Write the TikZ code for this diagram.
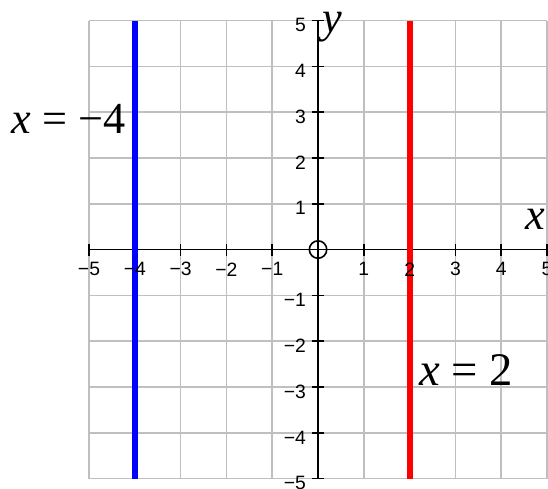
\documentclass[tikz,border=0pt]{standalone}
\usepackage{fontspec}
\setmainfont{Liberation Serif}
\newfontfamily\tickfont{Liberation Sans}
\begin{document}
\begin{tikzpicture}[x=1cm, y=1cm,
    eqlabel/.style={font=\fontsize{27.5}{30}\selectfont, inner sep=0pt},
    xnum/.style={font=\tickfont\fontsize{12}{14}\selectfont, inner sep=0pt},
    ynum/.style={font=\tickfont\fontsize{12}{14}\selectfont, inner sep=0pt, anchor=east}]
	\useasboundingbox (-6.943,-5.207) rectangle (5.02,5.448);
	% Grid
	\draw[gray!50, line width=1pt] (-5,-5) grid (5,5);
	% Axes
	\draw[line width=1.1pt] (-5,0) -- (5,0);
	\draw[line width=1.1pt] (0,-5) -- (0,5);
	% Ticks
	\foreach \t in {-5,-4,-3,-2,-1,1,2,3,4,5} {
		\draw[line width=1pt] (\t,-0.13) -- (\t,0.13);
		\draw[line width=1pt] (-0.13,\t) -- (0.13,\t);
	}
	\draw[line width=1pt] (0,0) circle (0.19);
	% Vertical lines
	\draw[blue, line width=3.7pt] (-4,-5) -- (-4,5);
	\draw[red, line width=3.7pt] (2,-5) -- (2,5);
	% Tick labels
	\node[xnum] (xm5) at (-5,-0.43) {−5};
	\node[xnum] (xm4) at (-4,-0.43) {−4};
	\node[xnum] (xm3) at (-3,-0.43) {−3};
	\node[xnum] (xm2) at (-2,-0.43) {−2};
	\node[xnum] (xm1) at (-1,-0.43) {−1};
	\node[xnum] (xp1) at (1,-0.43) {1};
	\node[xnum] (xp2) at (2,-0.43) {2};
	\node[xnum] (xp3) at (3,-0.43) {3};
	\node[xnum] (xp4) at (4,-0.43) {4};
	\node[xnum] (xp5) at (5,-0.43) {5};
	\node[ynum] (yp5) at (-0.26,4.9) {5};
	\node[ynum] (yp4) at (-0.26,3.9) {4};
	\node[ynum] (yp3) at (-0.26,2.9) {3};
	\node[ynum] (yp2) at (-0.26,1.9) {2};
	\node[ynum] (yp1) at (-0.26,0.9) {1};
	\node[ynum] (ym1) at (-0.26,-1.1) {−1};
	\node[ynum] (ym2) at (-0.26,-2.1) {−2};
	\node[ynum] (ym3) at (-0.26,-3.1) {−3};
	\node[ynum] (ym4) at (-0.26,-4.1) {−4};
	\node[ynum] (ym5) at (-0.26,-5.1) {−5};
	% Axis names
	\node[eqlabel, anchor=base west] (xname) at (4.53,0.43) {\textit{x}};
	\node[eqlabel, anchor=base west] (yname) at (0.1,4.73) {\textit{y}};
	% Line labels
	\node[eqlabel, anchor=base east] (blueeq) at (-4.2,2.54) {\textit{x} = −4};
	\node[eqlabel, font=\fontsize{29}{32}\selectfont, anchor=base west] (redeq) at (2.2,-2.96) {\textit{x} = 2};
\end{tikzpicture}
\end{document}
